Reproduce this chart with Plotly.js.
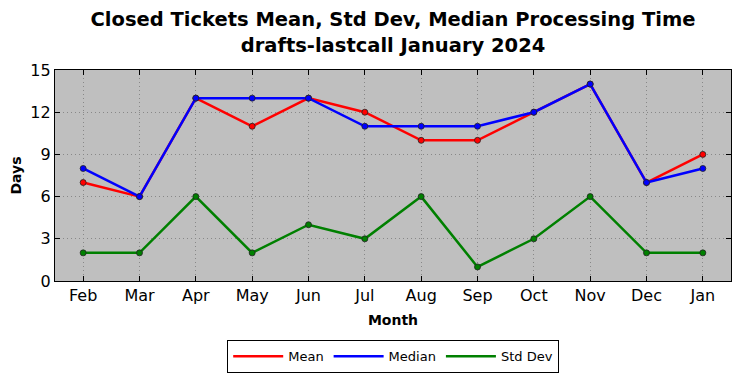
<!DOCTYPE html>
<html>
<head>
<meta charset="utf-8">
<script src="https://cdn.plot.ly/plotly-3.0.1.min.js"></script>
<style>body{margin:0;padding:0;background:#fff}#chart{width:741px;height:378px}</style>
</head>
<body>
<div id="chart"></div>
<script>
const months = ["Feb","Mar","Apr","May","Jun","Jul","Aug","Sep","Oct","Nov","Dec","Jan"];
const meanVals = [7,6,13,11,13,12,10,10,12,14,7,9];
const medianVals = [8,6,13,13,13,11,11,11,12,14,7,8];
const stdVals = [2,2,6,2,4,3,6,1,3,6,2,2];
const yTicks = [0,3,6,9,12,15];
const seriesNames = ['Mean','Median','Std Dev'];
const seriesColors = ['#ff0000','#0000ff','#008000'];
const seriesValues = [meanVals, medianVals, stdVals];

const data = [];
seriesValues.forEach((y, i) => {
  data.push({
    x: months, y: y, name: seriesNames[i], type: 'scatter', mode: 'lines+markers',
    showlegend: false, cliponaxis: false,
    line: {color: seriesColors[i], width: 2.5},
    marker: {color: seriesColors[i], size: 6, line: {color: '#222', width: 0.8}}
  });
});
seriesValues.forEach((y, i) => {
  data.push({
    x: [months[0]], y: [null], name: seriesNames[i], type: 'scatter', mode: 'lines',
    showlegend: true, line: {color: seriesColors[i], width: 2.5}
  });
});
const font = {family: 'DejaVu Sans, sans-serif', color: '#000'};
const layout = {
  width: 741, height: 378,
  margin: {l: 55, r: 10, t: 70, b: 97},
  paper_bgcolor: '#fff', plot_bgcolor: '#bfbfbf',
  font: font,
  title: {text: '<b>Closed Tickets Mean, Std Dev, Median Processing Time<br>drafts-lastcall January 2024</b>',
    font: {family: 'DejaVu Sans, sans-serif', size: 19.5, color: '#000'},
    x: 0.5, xanchor: 'center', xref: 'paper', yref: 'container', y: 0.93, yanchor: 'top'},
  xaxis: {
    type: 'category', range: [-0.5, 11.5], tickfont: {size: 16},
    showgrid: true, gridcolor: '#888', griddash: '1px,3px', gridwidth: 1,
    ticks: 'inside', ticklen: 5, tickcolor: '#000', mirror: 'ticks',
    showline: true, linecolor: '#000', linewidth: 1.2,
    title: {text: '<b>Month</b>', font: {size: 14}, standoff: 10},
    zeroline: false, automargin: false
  },
  yaxis: {
    range: [0, 15], tickvals: yTicks, tickfont: {size: 16},
    showgrid: true, gridcolor: '#888', griddash: '1px,3px', gridwidth: 1,
    ticks: 'inside', ticklen: 5, tickcolor: '#000', mirror: 'ticks',
    showline: true, linecolor: '#000', linewidth: 1.2,
    title: {text: '<b>Days</b>', font: {size: 14}, standoff: 5},
    zeroline: false, automargin: false
  },
  legend: {
    orientation: 'h', x: 0.5, xanchor: 'center', yref: 'container', y: 0.1, yanchor: 'top',
    bordercolor: '#000', borderwidth: 1.2, bgcolor: '#fff',
    font: {size: 13}, itemwidth: 50, traceorder: 'normal'
  },
  showlegend: true
};
Plotly.newPlot('chart', data, layout, {displayModeBar: false, staticPlot: true});
</script>
</body>
</html>
